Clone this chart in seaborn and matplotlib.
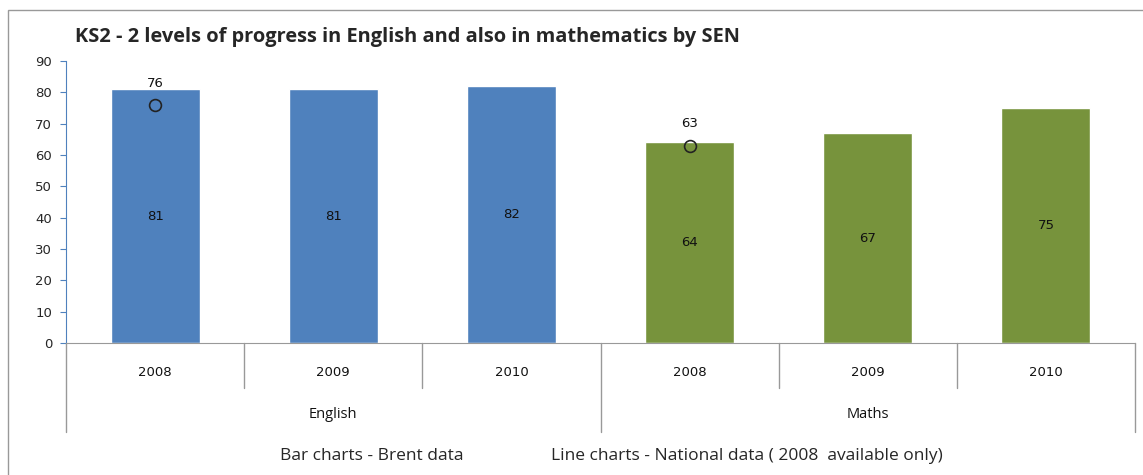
import matplotlib.pyplot as plt
import matplotlib.transforms as mtransforms
import pandas as pd
import seaborn as sns
from matplotlib.patches import Rectangle

# data
subjects = ["English", "English", "English", "Maths", "Maths", "Maths"]
years = ["2008", "2009", "2010", "2008", "2009", "2010"]
brent = [81, 81, 82, 64, 67, 75]
national_pos = [0, 3]
national = [76, 63]

colours = {"English": "#4F81BD", "Maths": "#77933C"}

df = pd.DataFrame({"subject": subjects, "year": years, "value": brent})
df["cat"] = df["subject"] + " " + df["year"]

sns.set_style("white")
plt.rcParams["font.family"] = ["Open Sans", "DejaVu Sans"]

fig = plt.figure(figsize=(11.43, 4.75), dpi=100)
W, H = 1143, 475
ax = fig.add_axes([66 / W, 1 - 343 / H, (1135 - 66) / W, (343 - 61) / H])

sns.barplot(data=df, x="cat", y="value", hue="subject", palette=colours,
            order=list(df["cat"]), dodge=False, width=0.5, legend=False,
            saturation=1, ax=ax)

# value labels in the middle of each bar
for c in ax.containers:
    ax.bar_label(c, label_type="center", fmt="%g", fontsize=9.5,
                 family="DejaVu Sans", color="#111111")

# national markers
ax.plot(national_pos, national, linestyle="none", marker="o", markersize=8.5,
        markerfacecolor="none", markeredgecolor="#222222", markeredgewidth=1.2,
        zorder=5)
for xp, v in zip(national_pos, national):
    ax.annotate(f"{v}", (xp, v), xytext=(0, 11), textcoords="offset points",
                ha="center", va="bottom", fontsize=9.5, family="DejaVu Sans",
                color="#111111")

ax.set_xlim(-0.5, 5.5)
ax.set_ylim(0, 90)
ax.set_yticks(range(0, 91, 10))
ax.tick_params(axis="y", labelsize=9.5, length=4, direction="out",
               color="#4F81BD", left=True, pad=6)
for lab in ax.get_yticklabels():
    lab.set_family("DejaVu Sans")
ax.set_xticks([])
ax.set_xlabel("")
ax.set_ylabel("")
for s in ["top", "right"]:
    ax.spines[s].set_visible(False)
ax.spines["left"].set_color("#4F81BD")
ax.spines["bottom"].set_color("#999999")

# two-level category axis
trans = mtransforms.blended_transform_factory(ax.transData, ax.transAxes)
for xb in [0.5, 1.5, 3.5, 4.5]:
    ax.plot([xb, xb], [0, -0.16], color="#999999", lw=1, transform=trans,
            clip_on=False)
for xb in [-0.5, 2.5, 5.5]:
    ax.plot([xb, xb], [0, -0.316], color="#999999", lw=1, transform=trans,
            clip_on=False)
for i, yr in enumerate(years):
    ax.text(i, -0.103, yr, transform=trans, ha="center", va="center",
            fontsize=9.5, family="DejaVu Sans", color="#111111")
for g, xc in [("English", 1), ("Maths", 4)]:
    ax.text(xc, -0.255, g, transform=trans, ha="center", va="center",
            fontsize=10.5, color="#111111")

fig.text(75 / W, 1 - 37 / H, "KS2 - 2 levels of progress in English and also in mathematics by SEN",
         fontsize=14.4, fontweight="bold", va="center", ha="left")
fig.text(372 / W, 1 - 456 / H, "Bar charts - Brent data", fontsize=12.5,
         ha="center", va="center")
fig.text(551 / W, 1 - 456 / H, "Line charts - National data ( 2008  available only)",
         fontsize=12.5, ha="left", va="center")

fig.patches.append(Rectangle((8 / W, -0.05), 1.0, 1.05 - 10 / H,
                             transform=fig.transFigure, fill=False,
                             edgecolor="#999999", lw=1))

fig.savefig("out.png", dpi=100)
